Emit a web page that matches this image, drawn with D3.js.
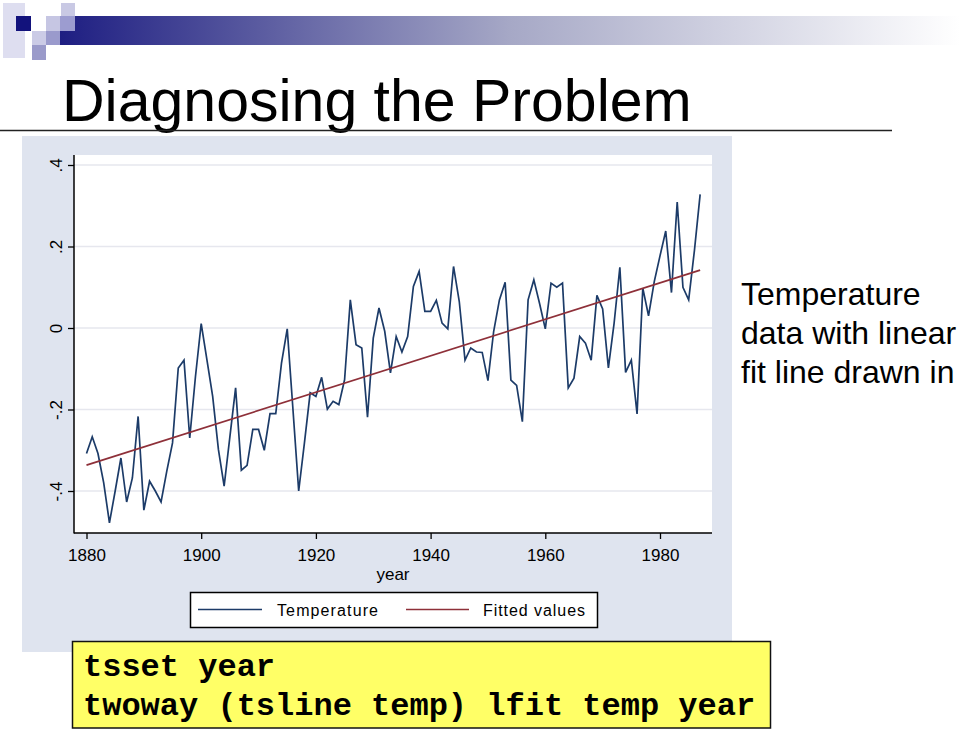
<!DOCTYPE html>
<html>
<head>
<meta charset="utf-8">
<script src="https://cdn.jsdelivr.net/npm/d3@7"></script>
<style>
  body { margin: 0; background: #fff; }
  svg { display: block; }
  text { font-family: "Liberation Sans", Arial, sans-serif; }
  text.code { font-family: "Liberation Mono", "Courier New", monospace; font-weight: bold; }
</style>
</head>
<body>
<svg id="chart" width="960" height="730"></svg>
<script>
// values, one per year 1880..1987
const firstYear = 1880;
const temperature = [
  -0.308, -0.267, -0.308, -0.380, -0.478, -0.400, -0.319, -0.427, -0.368, -0.217,
  -0.447, -0.376, -0.400, -0.427, -0.351, -0.282, -0.098, -0.079, -0.270, -0.119,
   0.011, -0.078, -0.168, -0.298, -0.388, -0.267, -0.147, -0.349, -0.337, -0.249,
  -0.249, -0.300, -0.210, -0.210, -0.086, -0.002, -0.200, -0.400, -0.282, -0.159,
  -0.168, -0.121, -0.199, -0.180, -0.188, -0.127,  0.069, -0.041, -0.049, -0.219,
  -0.025,  0.049, -0.008, -0.110, -0.021, -0.059, -0.021,  0.102,  0.139,  0.041,
   0.041,  0.068,  0.012, -0.002,  0.151,  0.065, -0.079, -0.049, -0.059, -0.060,
  -0.129, -0.008,  0.069,  0.112, -0.128, -0.141, -0.230,  0.069,  0.118,  0.060,
  -0.002,  0.110,  0.100,  0.110, -0.147, -0.123, -0.021, -0.037, -0.079,  0.080,
   0.047, -0.098,  0.012,  0.149, -0.109, -0.079, -0.211,  0.098,  0.030,  0.114,
   0.177,  0.238,  0.087,  0.309,  0.100,  0.069,  0.190,  0.328
];
const years = temperature.map((v, i) => firstYear + i);

const xTicks = [1880, 1900, 1920, 1940, 1960, 1980];
const yTicks = [-0.4, -0.2, 0, 0.2, 0.4];
const yTickLabels = ["-.4", "-.2", "0", ".2", ".4"];
const legendLabels = ["Temperature", "Fitted values"];
const titleText = "Diagnosing the Problem";
const noteLines = ["Temperature", "data with linear", "fit line drawn in"];
const codeLines = ["tsset year", "twoway (tsline temp) lfit temp year"];

const navy = "#1c3b68";
const maroon = "#8e3039";

const svg = d3.select("#chart");

// ---- slide header decoration ----
const defs = svg.append("defs");
const grad = defs.append("linearGradient").attr("id", "bar");
grad.append("stop").attr("offset", "0%").attr("stop-color", "#1e1e82");
grad.append("stop").attr("offset", "50%").attr("stop-color", "#a6a8c6");
grad.append("stop").attr("offset", "100%").attr("stop-color", "#ffffff");

svg.append("rect").attr("x", 60).attr("y", 16).attr("width", 900).attr("height", 29)
  .attr("fill", "url(#bar)");

const squares = [
  [3, 3, 22, 55, "#dedef0"],
  [61, 3, 14, 13, "#c9c9e4"],
  [46, 16, 14, 15, "#c6c6e3"],
  [60, 16, 15, 15, "#9c9cd0"],
  [16, 16, 15, 15, "#12127c"],
  [32, 31, 14, 14, "#cbcbe6"],
  [46, 31, 14, 14, "#9a9acc"],
  [32, 45, 14, 15, "#9a9aca"]
];
svg.selectAll("rect.sq").data(squares).enter().append("rect")
  .attr("class", "sq")
  .attr("x", d => d[0]).attr("y", d => d[1])
  .attr("width", d => d[2]).attr("height", d => d[3])
  .attr("fill", d => d[4]);

svg.append("text").attr("x", 62).attr("y", 121)
  .attr("font-size", 59).attr("fill", "#000")
  .text(titleText);

svg.append("line").attr("x1", 0).attr("x2", 892).attr("y1", 130.5).attr("y2", 130.5)
  .attr("stroke", "#222").attr("stroke-width", 1.5);

// ---- Stata graph region ----
svg.append("rect").attr("x", 22).attr("y", 136).attr("width", 710).attr("height", 516)
  .attr("fill", "#dfe4ef");

const plot = { left: 74, right: 712, top: 155, bottom: 533 };
svg.append("rect").attr("x", plot.left).attr("y", plot.top)
  .attr("width", plot.right - plot.left).attr("height", plot.bottom - plot.top)
  .attr("fill", "#fff");

const x = d3.scaleLinear().domain([1880, 1980]).range([86.5, 660]);
const y = d3.scaleLinear().domain([-0.4, 0.4]).range([491, 165]);

// gridlines
svg.append("g").selectAll("line").data(yTicks).enter().append("line")
  .attr("x1", plot.left).attr("x2", plot.right)
  .attr("y1", d => y(d)).attr("y2", d => y(d))
  .attr("stroke", "#e6e7ee").attr("stroke-width", 1.5);

// axes
const yAxis = svg.append("g").attr("transform", `translate(${plot.left},0)`)
  .call(d3.axisLeft(y).tickValues(yTicks).tickSize(6).tickSizeOuter(0)
    .tickFormat((d, i) => yTickLabels[i]));
yAxis.select(".domain").remove();
yAxis.selectAll(".tick line").attr("stroke", "#000").attr("stroke-width", 1.3);
yAxis.selectAll(".tick text")
  .attr("transform", "rotate(-90)")
  .attr("x", 0).attr("y", -12).attr("dy", 0)
  .attr("text-anchor", "middle")
  .attr("font-size", 17).attr("fill", "#000");

const xAxis = svg.append("g").attr("transform", `translate(0,${plot.bottom})`)
  .call(d3.axisBottom(x).tickValues(xTicks).tickSize(6).tickSizeOuter(0)
    .tickFormat(d3.format("d")));
xAxis.select(".domain").remove();
xAxis.selectAll(".tick line").attr("stroke", "#000").attr("stroke-width", 1.3);
xAxis.selectAll(".tick text")
  .attr("y", 13).attr("dy", "0.9em")
  .attr("font-size", 17).attr("fill", "#000");

svg.append("line").attr("x1", plot.left).attr("x2", plot.left)
  .attr("y1", plot.top).attr("y2", plot.bottom + 0.5)
  .attr("stroke", "#000").attr("stroke-width", 1.5);
svg.append("line").attr("x1", plot.left).attr("x2", plot.right)
  .attr("y1", plot.bottom).attr("y2", plot.bottom)
  .attr("stroke", "#000").attr("stroke-width", 1.5);

svg.append("text").attr("x", 393).attr("y", 580)
  .attr("text-anchor", "middle").attr("font-size", 17)
  .text("year");

// ---- series ----
const series = years.map((yr, i) => ({ year: yr, value: temperature[i] }));

// linear fit (what lfit draws)
const mx = d3.mean(series, d => d.year);
const my = d3.mean(series, d => d.value);
const slope = d3.sum(series, d => (d.year - mx) * (d.value - my)) /
              d3.sum(series, d => (d.year - mx) * (d.year - mx));
const fitted = d3.extent(years).map(yr => ({ year: yr, value: my + slope * (yr - mx) }));

const line = d3.line().x(d => x(d.year)).y(d => y(d.value));

svg.append("path").datum(series)
  .attr("d", line).attr("fill", "none")
  .attr("stroke", navy).attr("stroke-width", 1.7).attr("stroke-linejoin", "miter");

svg.append("path").datum(fitted)
  .attr("d", line).attr("fill", "none")
  .attr("stroke", maroon).attr("stroke-width", 1.7);

// ---- legend ----
const legend = svg.append("g");
legend.append("rect").attr("x", 190.5).attr("y", 592.5).attr("width", 407).attr("height", 35)
  .attr("fill", "#fff").attr("stroke", "#000").attr("stroke-width", 1.5);
const legendItems = [
  { label: legendLabels[0], color: navy, x0: 198, x1: 262, tx: 277, tl: 101 },
  { label: legendLabels[1], color: maroon, x0: 406, x1: 469, tx: 483, tl: 102 }
];
legendItems.forEach(d => {
  legend.append("line").attr("x1", d.x0).attr("x2", d.x1).attr("y1", 609.5).attr("y2", 609.5)
    .attr("stroke", d.color).attr("stroke-width", 1.7);
  legend.append("text").attr("x", d.tx).attr("y", 615.5)
    .attr("font-size", 16).attr("textLength", d.tl).attr("lengthAdjust", "spacing")
    .text(d.label);
});

// ---- side note ----
svg.append("g").selectAll("text").data(noteLines).enter().append("text")
  .attr("x", 741).attr("y", (d, i) => 305 + i * 39)
  .attr("font-size", 32).attr("fill", "#000")
  .text(d => d);

// ---- stata code box ----
svg.append("rect").attr("x", 72.5).attr("y", 641.5).attr("width", 698).attr("height", 86.5)
  .attr("fill", "#ffff66").attr("stroke", "#111").attr("stroke-width", 1.5);
svg.append("g").selectAll("text").data(codeLines).enter().append("text")
  .attr("class", "code")
  .attr("x", 83).attr("y", (d, i) => 676 + i * 39)
  .attr("font-size", 32).attr("fill", "#000")
  .style("white-space", "pre")
  .text(d => d);
</script>
</body>
</html>
